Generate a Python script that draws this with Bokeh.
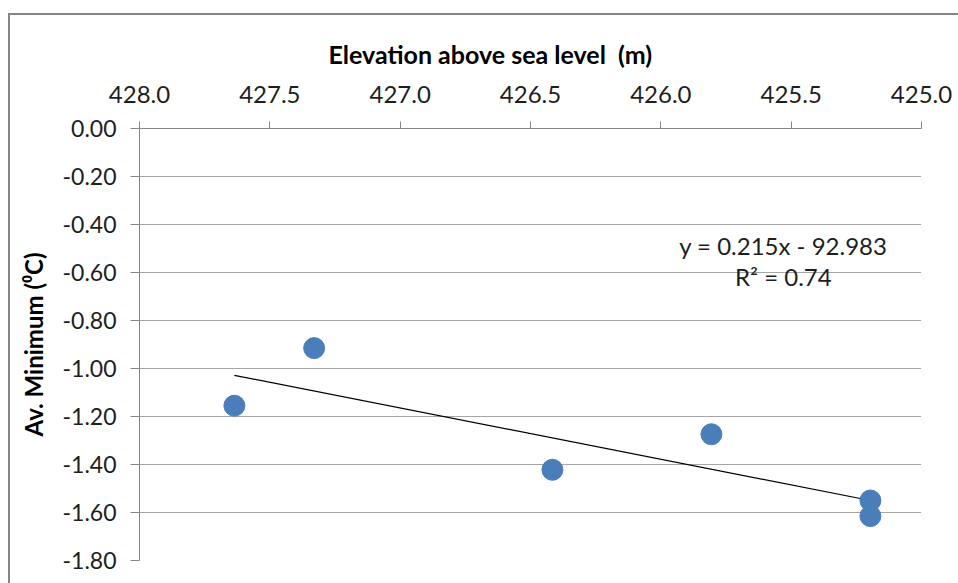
import numpy as np
from bokeh.plotting import figure
from bokeh.models import (Range1d, LinearAxis, FixedTicker, NumeralTickFormatter,
                          Label, ColumnDataSource)
from bokeh.embed import file_html
from bokeh.resources import INLINE

# Data
elevation = [427.636, 427.33, 426.416, 425.806, 425.196, 425.196]
av_minimum = [-1.155, -0.915, -1.422, -1.274, -1.550, -1.615]
x_ticks = [428.0, 427.5, 427.0, 426.5, 426.0, 425.5, 425.0]
y_ticks = [0.0, -0.2, -0.4, -0.6, -0.8, -1.0, -1.2, -1.4, -1.6, -1.8]
equation_text = "y = 0.215x - 92.983"
r2_text = "R\u00b2 = 0.74"

FONT = "Lato"
GRID = "#a6a6a6"
AXIS = "#868686"
TXT = "#1e1e1e"

p = figure(width=950, height=570, output_backend="svg", toolbar_location=None,
           x_range=Range1d(428.0, 425.0), y_range=Range1d(-1.8, 0.0),
           x_axis_location=None,
           min_border_left=129, min_border_right=39, min_border_top=113,
           min_border_bottom=25)
p.margin = (13, 0, 0, 8)
p.styles = {"border-left": "2px solid #868686", "border-top": "2px solid #868686"}
p.outline_line_color = None
p.background_fill_color = "white"
p.border_fill_color = "white"

# top x axis
xa = LinearAxis(ticker=FixedTicker(ticks=x_ticks),
                formatter=NumeralTickFormatter(format="0.0"))
xa.axis_line_color = AXIS
xa.major_tick_line_color = AXIS
xa.major_tick_out = 7
xa.major_tick_in = 0
xa.minor_tick_line_color = None
xa.major_label_text_font = FONT
xa.major_label_text_font_size = "24px"
xa.major_label_text_color = TXT
xa.major_label_standoff = 19
p.add_layout(xa, "above")

# y axis
ya = p.yaxis[0]
ya.ticker = FixedTicker(ticks=y_ticks)
ya.formatter = NumeralTickFormatter(format="0.00")
ya.axis_line_color = AXIS
ya.major_tick_line_color = AXIS
ya.major_tick_out = 9
ya.major_tick_in = 0
ya.minor_tick_line_color = None
ya.major_label_text_font = FONT
ya.major_label_text_font_size = "23px"
ya.major_label_text_color = TXT
ya.major_label_standoff = 14
ya.axis_label = "Av. Minimum (\u2070C)"
ya.axis_label_text_font = FONT
ya.axis_label_text_font_style = "bold"
ya.axis_label_text_font_size = "24px"
ya.axis_label_text_color = "black"
ya.axis_label_standoff = 12

p.xgrid.grid_line_color = None
p.ygrid.ticker = FixedTicker(ticks=y_ticks)
p.ygrid.grid_line_color = GRID
p.ygrid.grid_line_width = 1

# title acting as x-axis label
p.title.text = "Elevation above sea level\u00a0 (m)"
p.title.align = "left"
p.title.offset = 189
p.title.text_font = FONT
p.title.text_font_style = "bold"
p.title.text_font_size = "25px"
p.title.text_color = "black"
p.title.standoff = 28

# trendline (least squares)
xs = np.array(elevation)
ys = np.array(av_minimum)
slope, intercept = np.polyfit(xs, ys, 1)
tx = np.array([xs.max(), xs.min()])
p.line(tx, slope * tx + intercept, line_color="black", line_width=1.2)

src = ColumnDataSource(dict(x=elevation, y=av_minimum))
p.scatter("x", "y", source=src, size=21, fill_color="#4a7ebb", line_color="#4a7ebb")

p.add_layout(Label(x=425.53, y=-0.4875, text=equation_text, text_align="center",
                   text_baseline="middle", text_font=FONT, text_font_size="24px",
                   text_color=TXT))
p.add_layout(Label(x=425.53, y=-0.617, text=r2_text, text_align="center",
                   text_baseline="middle", text_font=FONT, text_font_size="24px",
                   text_color=TXT))

open("out.html", "w").write(file_html(p, INLINE))
